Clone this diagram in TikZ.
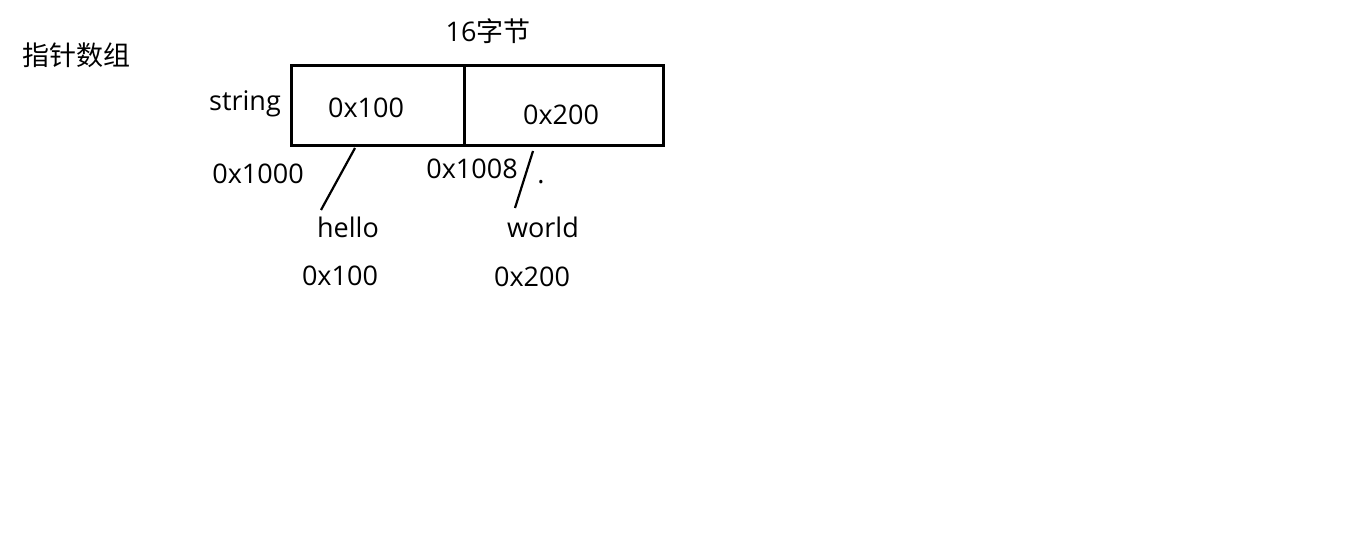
\documentclass[tikz,border=0pt]{standalone}
\usepackage{fontspec}
\setmainfont{Open Sans}
\newfontfamily\cjk{Noto Sans CJK SC}
\begin{document}
\begin{tikzpicture}[x=1pt,y=-1pt,
  lbl/.style={inner sep=0pt,font=\fontsize{27}{31}\selectfont},
  cell/.style={draw,line width=3pt,minimum height=80pt,inner sep=0pt,outer sep=0pt},
  link/.style={line width=2.2pt}]
\useasboundingbox (0,0) rectangle (1351,534);
% titles
\node[lbl] (title) at (76,55) {\cjk 指针数组};
\node[lbl] (size) at (488,31) {16\cjk 字节};
% the two 8-byte cells
\node[cell,minimum width=173pt] (cellA) at (377.5,106) {};
\node[cell,minimum width=199pt] (cellB) at (563.5,106) {};
\node[lbl] (valA) at (366,108) {0x100};
\node[lbl] (valB) at (561,115) {0x200};
\node[lbl] (name) at (245,104) {string};
\node[lbl] (addrA) at (258,174) {0x1000};
\node[lbl] (addrB) at (472,169) {0x1008};
\node[lbl] (dot) at (541,182) {.};
% strings they point to
\node[lbl] (hello) at (348,227) {hello};
\node[lbl] (world) at (543,227) {world};
\node[lbl] (helloaddr) at (340,276) {0x100};
\node[lbl] (worldaddr) at (532,277) {0x200};
\coordinate (ptrA) at (355,148);
\coordinate (endA) at (321,210);
\coordinate (ptrB) at (533,151);
\coordinate (endB) at (515,208);
\draw[link] (ptrA) -- (endA);
\draw[link] (ptrB) -- (endB);
\end{tikzpicture}
\end{document}
